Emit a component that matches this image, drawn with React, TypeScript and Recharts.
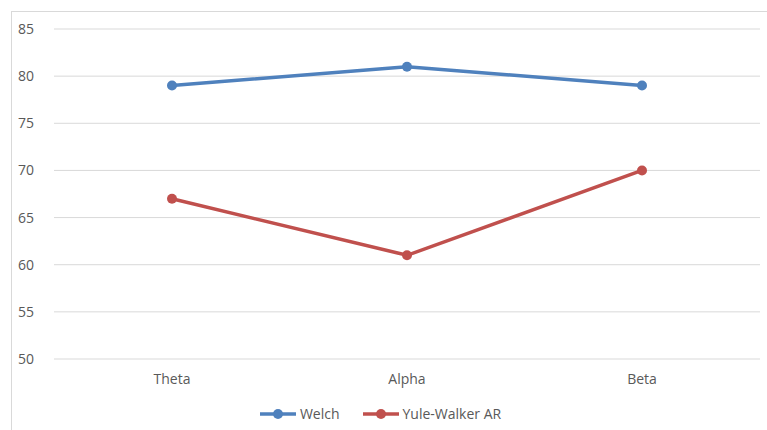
import { LineChart, Line, XAxis, YAxis, CartesianGrid, Legend } from "recharts";

const bands = ["Theta", "Alpha", "Beta"];
const welch = [79, 81, 79];
const yuleWalker = [67, 61, 70];
const yTicks = [50, 55, 60, 65, 70, 75, 80, 85];

const chartData = bands.map((band, i) => ({
  band,
  welch: welch[i],
  yule: yuleWalker[i],
}));

const font = "'Open Sans', 'Liberation Sans', sans-serif";

function LegendContent({ payload }: any) {
  return (
    <div style={{ display: "flex", justifyContent: "center", gap: 22, fontFamily: font, fontSize: 14, color: "#595959" }}>
      {(payload || []).map((p: any) => (
        <div key={p.value} style={{ display: "flex", alignItems: "center" }}>
          <svg width={38} height={12} style={{ marginRight: 3 }}>
            <line x1={1} y1={6} x2={37} y2={6} stroke={p.color} strokeWidth={3.5} />
            <circle cx={19} cy={6} r={5} fill={p.color} />
          </svg>
          <span>{p.value}</span>
        </div>
      ))}
    </div>
  );
}

export default function App() {
  return (
    <div style={{ position: "fixed", top: 0, left: 0, width: 767, height: 430, background: "#fff", overflow: "hidden" }}>
      <div style={{ position: "absolute", left: 11, top: 11, width: 800, height: 460, border: "1px solid #d9d9d9" }} />
      <LineChart
        width={767}
        height={430}
        data={chartData}
        margin={{ top: 29, right: 7, left: 0, bottom: 0 }}
      >
        <CartesianGrid vertical={false} stroke="#d9d9d9" />
        <XAxis
          dataKey="band"
          axisLine={false}
          tickLine={false}
          height={45}
          tickMargin={9}
          padding={{ left: 118, right: 118 }}
          tick={{ fill: "#595959", fontSize: 14, fontFamily: font }}
        />
        <YAxis
          domain={[50, 85]}
          ticks={yTicks}
          width={54}
          axisLine={false}
          tickLine={false}
          tickMargin={14}
          tick={{ fill: "#595959", fontSize: 14, fontFamily: font }}
        />
        <Legend verticalAlign="bottom" height={26} content={<LegendContent />} />
        <Line
          dataKey="welch"
          name="Welch"
          stroke="#4f81bd"
          strokeWidth={3.5}
          dot={{ r: 5, fill: "#4f81bd", stroke: "#4f81bd", strokeWidth: 0 }}
          isAnimationActive={false}
        />
        <Line
          dataKey="yule"
          name="Yule-Walker AR"
          stroke="#c0504d"
          strokeWidth={3.5}
          dot={{ r: 5, fill: "#c0504d", stroke: "#c0504d", strokeWidth: 0 }}
          isAnimationActive={false}
        />
      </LineChart>
    </div>
  );
}
